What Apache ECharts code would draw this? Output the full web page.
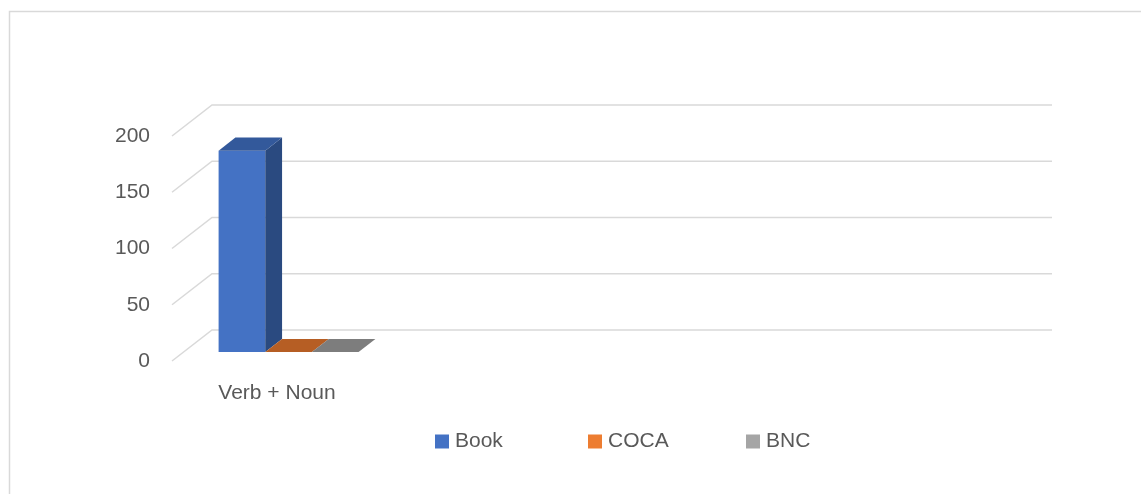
<!DOCTYPE html>
<html>
<head>
<meta charset="utf-8">
<script src="https://cdn.jsdelivr.net/npm/echarts@6/dist/echarts.min.js"></script>
<style>
html,body{margin:0;padding:0;background:#fff;}
#chart{width:1141px;height:494px;}
</style>
</head>
<body>
<div id="chart"></div>
<script>
// ---- data ----
const categories = ['Verb + Noun', '', '', ''];
const seriesNames = ['Book', 'COCA', 'BNC'];
const bookValues = [179, null, null, null];
const cocaValues = [0, null, null, null];
const bncValues = [0, null, null, null];
const yTicks = [0, 50, 100, 150, 200];

// ---- styles ----
const FONT = 'Liberation Sans';
const TEXT = '#595959';
const faceColors = [
  { front: '#4472C4', top: '#33599b', side: '#2a4a80' },
  { front: '#ED7D31', top: '#b65e24', side: '#96501f' },
  { front: '#A5A5A5', top: '#7d7d7d', side: '#676767' }
];
const DEPTH = [40, -31];        // full floor depth in px
const BAR_FRONT = 0.29, BAR_BACK = 0.71;
const GAP = 1.5;                // gap width 150%

function barRenderer(sIdx) {
  return function (params, api) {
    const val = api.value(1);
    if (val == null || isNaN(val)) return;
    const cat = api.value(0);
    const band = api.size([1, 0])[0];
    const n = seriesNames.length;
    const bw = band / (n + GAP);
    const base = api.coord([cat, 0]);
    const top = api.coord([cat, val]);
    const fdx = DEPTH[0] * BAR_FRONT, fdy = DEPTH[1] * BAR_FRONT;
    const ddx = DEPTH[0] * (BAR_BACK - BAR_FRONT), ddy = DEPTH[1] * (BAR_BACK - BAR_FRONT);
    const x0 = base[0] - band / 2 + bw * GAP / 2 + sIdx * bw + fdx;
    const x1 = x0 + bw;
    const yb = base[1] + fdy;
    const yt = top[1] + fdy;
    const c = faceColors[sIdx];
    const children = [];
    if (yb - yt > 0.5) {
      children.push({ type: 'rect', shape: { x: x0, y: yt, width: bw, height: yb - yt }, style: { fill: c.front } });
      children.push({ type: 'polygon', shape: { points: [[x1, yt], [x1 + ddx, yt + ddy], [x1 + ddx, yb + ddy], [x1, yb]] }, style: { fill: c.side } });
    }
    children.push({ type: 'polygon', shape: { points: [[x0, yt], [x1, yt], [x1 + ddx, yt + ddy], [x0 + ddx, yt + ddy]] }, style: { fill: c.top } });
    return { type: 'group', children: children };
  };
}

function gridRenderer(params, api) {
  const v = api.value(1);
  const band = api.size([1, 0])[0];
  const p = api.coord([0, v]);
  const left = p[0] - band / 2;
  const right = left + band * categories.length;
  return {
    type: 'polyline',
    shape: { points: [[left, p[1]], [left + DEPTH[0], p[1] + DEPTH[1]], [right + DEPTH[0], p[1] + DEPTH[1]]] },
    style: { stroke: '#d9d9d9', lineWidth: 1.5, fill: null }
  };
}

const valueSets = [bookValues, cocaValues, bncValues];
const series = [{
  type: 'custom',
  name: '__grid',
  silent: true,
  z: 1,
  renderItem: gridRenderer,
  data: yTicks.map(v => [0, v])
}];
seriesNames.forEach((name, i) => {
  series.push({
    type: 'custom',
    name: name,
    z: 2 + i,
    itemStyle: { color: faceColors[i].front },
    renderItem: barRenderer(i),
    data: valueSets[i].map((v, k) => [k, v])
  });
});

const legendLefts = [435, 588, 746];
const chart = echarts.init(document.getElementById('chart'), null, { renderer: 'canvas' });
chart.setOption({
  animation: false,
  backgroundColor: '#ffffff',
  textStyle: { fontFamily: FONT },
  graphic: [{
    type: 'rect', silent: true, z: 0,
    shape: { x: 9.5, y: 11.5, width: 1200, height: 600 },
    style: { fill: 'none', stroke: '#d9d9d9', lineWidth: 1.5 }
  }],
  grid: { left: 172, width: 840, top: 136, height: 225, containLabel: false },
  xAxis: {
    type: 'category',
    data: categories,
    axisLine: { show: false },
    axisTick: { show: false },
    splitLine: { show: false },
    axisLabel: { margin: 22, color: TEXT, fontSize: 21, fontFamily: FONT, interval: 0 }
  },
  yAxis: {
    type: 'value',
    min: 0, max: 200, interval: 50,
    axisLine: { show: false },
    axisTick: { show: false },
    splitLine: { show: false },
    axisLabel: { margin: 22, color: TEXT, fontSize: 21, fontFamily: FONT, padding: [4, 0, 0, 0] }
  },
  legend: seriesNames.map((name, i) => ({
    data: [{ name: name, icon: 'rect' }],
    left: legendLefts[i],
    top: 431,
    itemWidth: 14,
    itemHeight: 14,
    padding: 0,
    selectedMode: false,
    textStyle: { color: TEXT, fontSize: 21, fontFamily: FONT, padding: [0, 0, 0, 1] }
  })),
  series: series
});
</script>
</body>
</html>
